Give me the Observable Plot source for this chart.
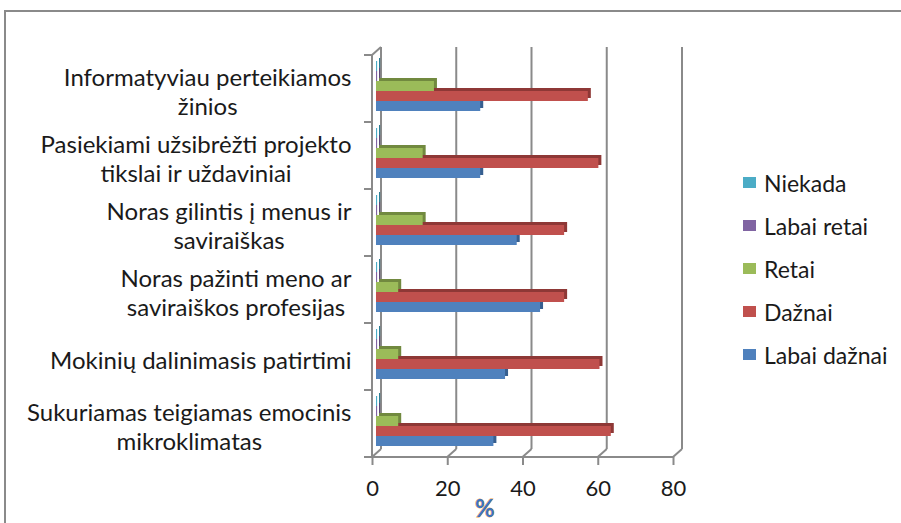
<!DOCTYPE html>
<html><head><meta charset="utf-8">
<script src="https://cdn.jsdelivr.net/npm/d3@7"></script>
<script src="https://cdn.jsdelivr.net/npm/@observablehq/plot@0.6"></script>
<style>
body{margin:0;background:#fff;}
#wrap{position:relative;width:901px;height:523px;overflow:hidden;font-family:Lato,sans-serif;}
#wrap svg{display:block;}
#border{position:absolute;left:4px;top:10px;right:-10px;bottom:-10px;border-top:2px solid #8a8a8a;border-left:2px solid #8a8a8a;pointer-events:none;}
#legend{position:absolute;left:743px;top:161px;font-size:23px;color:#1a1a1a;}
#legend .item{height:43px;display:flex;align-items:center;white-space:nowrap;}
#legend .sw{width:13px;height:11px;margin-right:8px;display:inline-block;}
</style></head><body><div id="wrap"><div id="border"></div></div>
<script>
const categories = [
  "Informatyviau perteikiamos\nžinios",
  "Pasiekiami užsibrėžti projekto\ntikslai ir uždaviniai",
  "Noras gilintis į menus ir\nsaviraiškas",
  "Noras pažinti meno ar\nsaviraiškos profesijas",
  "Mokinių dalinimasis patirtimi",
  "Sukuriamas teigiamas emocinis\nmikroklimatas"
];
const series = ["Niekada", "Labai retai", "Retai", "Dažnai", "Labai dažnai"];
const niekada     = [0.3, 0.3, 0.3, 0.3, 0.3, 0.3];
const labaiRetai  = [0.3, 0.3, 0.3, 0.3, 0.3, 0.3];
const retai       = [15.4, 12.4, 12.4, 5.9, 5.9, 5.9];
const daznai      = [56.3, 59.1, 50.0, 50.0, 59.4, 62.4];
const labaiDaznai = [27.7, 27.7, 37.4, 43.6, 34.3, 31.2];
const xTicks = [0, 20, 40, 60, 80];
const xLabel = "%";
const colors = ["#4bacc6", "#8064a2", "#9bbb59", "#c0504d", "#4f81bd"];
const darkColors = ["#2c7d94", "#5c4776", "#71893f", "#8e3836", "#375f8f"];

const seriesValues = [niekada, labaiRetai, retai, daznai, labaiDaznai];
const data = categories.flatMap((c, i) => series.map((s, j) => ({category: c, series: s, value: seriesValues[j][i], dark: darkColors[j]})));

const M = {top: 55, bottom: 66, left: 372, right: 228};
const W = 901, H = 523;
const FONT = "Lato, sans-serif";
const LABEL_SIZE = 24, LINE_H = 1.2;

const chart = Plot.plot({
  width: W, height: H,
  marginTop: M.top, marginBottom: M.bottom, marginLeft: M.left, marginRight: M.right,
  style: {fontFamily: FONT, background: "transparent", overflow: "visible"},
  x: {domain: [0, 80]},
  fy: {domain: categories, padding: 0},
  y: {domain: series, paddingInner: 0, paddingOuter: 0.63, align: 0.37, axis: null},
  color: {domain: series, range: colors},
  marks: [
    Plot.barX(data, {x: "value", y: "series", fy: "category", fill: "dark", dx: 7, dy: -3}),
    Plot.barX(data, {x: "value", y: "series", fy: "category", fill: "series", dx: 4}),
    Plot.axisX({ticks: xTicks, tickSize: 8, tickPadding: 15, fontSize: 22, stroke: "#8a8a8a", strokeWidth: 2, fill: "#1a1a1a", label: xLabel, labelAnchor: "center", labelOffset: 50}),
    Plot.axisFy({anchor: "left", tickSize: 0, tickPadding: 21, fontSize: LABEL_SIZE, lineHeight: LINE_H, fill: "#1a1a1a", dy: 4, label: null})
  ]
});
document.getElementById("wrap").appendChild(chart);

const svg = d3.select(chart);
const xs = chart.scale("x");
const fys = chart.scale("fy");
const X = v => xs.apply(v);
const yTop = M.top, yBottom = H - M.bottom;
const D = 9, DY = 8;

const g = svg.insert("g", "g").attr("stroke", "#8a8a8a").attr("stroke-width", 2).attr("fill", "none");
const line = (x1, y1, x2, y2) => g.append("line").attr("x1", x1).attr("y1", y1).attr("x2", x2).attr("y2", y2);
xTicks.forEach(t => {
  line(X(t) + D, yTop - DY, X(t) + D, yBottom - DY);
  line(X(t), yBottom, X(t) + D, yBottom - DY);
});
line(X(0), yTop, X(0) + D, yTop - DY);
line(X(0), yTop, X(0), yBottom);
line(X(0), yBottom, X(xTicks[xTicks.length - 1]), yBottom);
const bw = fys.bandwidth;
categories.forEach((c, i) => {
  const y0 = fys.apply(c);
  line(X(0) - 8, y0, X(0), y0);
  if (i === categories.length - 1) line(X(0) - 8, y0 + bw, X(0), y0 + bw);
});

// center multi-line category labels within their right-aligned block
svg.selectAll('g[aria-label="fy-axis tick label"] text').each(function() {
  const content = this.textContent;
  const cat = categories.find(c => c.replace(/\n/g, "") === content);
  if (!cat) return;
  const lines = cat.split("\n");
  const n = lines.length;
  const t = d3.select(this);
  t.selectAll("*").remove();
  this.textContent = "";
  t.attr("text-anchor", "middle");
  const spans = lines.map((ln, i) => t.append("tspan")
    .attr("y", `${((i - (n - 1) / 2) * LINE_H + 0.32).toFixed(3)}em`)
    .text(ln));
  const w = Math.max(...spans.map(s => s.node().getComputedTextLength()));
  spans.forEach(s => s.attr("x", -w / 2));
});

// move and style the % label (taken out of the facet group so it uses page coordinates)
svg.selectAll('g[aria-label="x-axis label"] text').each(function() {
  svg.node().appendChild(this);
  this.textContent = xLabel;
  d3.select(this)
    .attr("transform", `translate(${X(30)},${yBottom + 52})`)
    .attr("dy", "0.35em")
    .attr("text-anchor", "middle")
    .attr("fill", "#3b73c2").attr("stroke", "#f0a040").attr("stroke-width", 0.8)
    .attr("paint-order", "stroke").attr("font-weight", "bold").attr("font-size", 24);
});

// legend
const legend = d3.select("#wrap").append("div").attr("id", "legend");
series.forEach((s, i) => {
  const item = legend.append("div").attr("class", "item");
  item.append("span").attr("class", "sw").style("background", colors[i]);
  item.append("span").text(s);
});
</script>
</body></html>
